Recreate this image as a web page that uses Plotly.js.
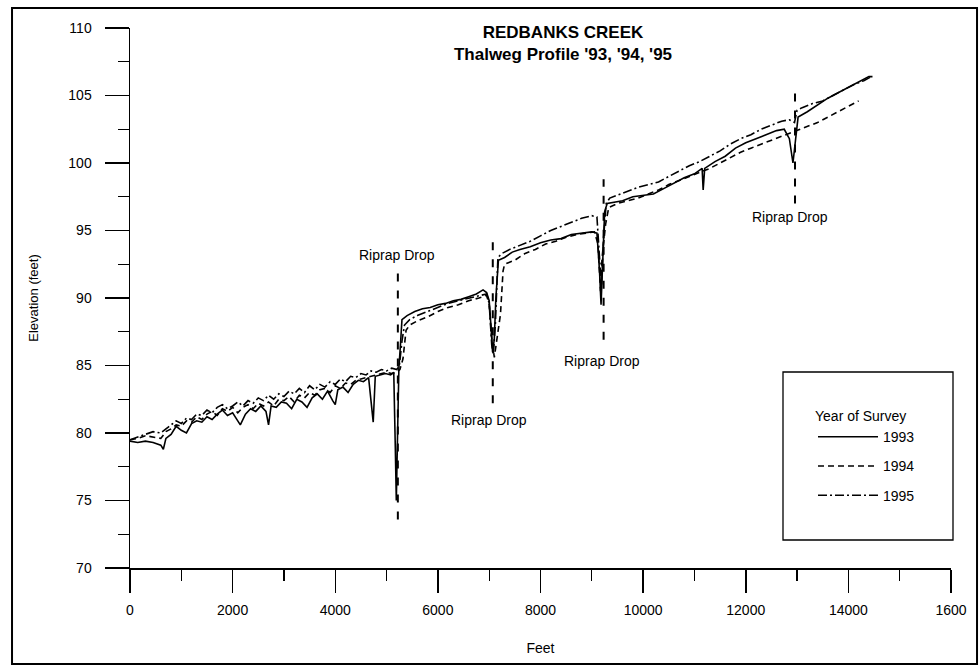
<!DOCTYPE html>
<html>
<head>
<meta charset="utf-8">
<script src="https://cdn.plot.ly/plotly-3.0.1.min.js"></script>
<style>html,body{margin:0;padding:0;background:#fff;}#chart{width:980px;height:668px;}</style>
</head>
<body>
<div id="chart"></div>
<script>
// ---- Data ----
const seriesNames = ['1993', '1994', '1995'];

const feet1993 = [0,150,300,450,600,650,700,800,900,1000,1100,1200,1300,1400,1500,1600,1700,1800,1900,2000,2100,2150,2250,2350,2450,2550,2650,2700,2750,2850,2950,3050,3150,3250,3350,3450,3550,3650,3750,3850,3950,4000,4050,4150,4250,4350,4450,4550,4650,4700,4740,4780,4880,4980,5080,5140,5170,5190,5215,5240,5270,5300,5400,5550,5700,5850,6000,6150,6300,6450,6600,6750,6880,6950,7000,7040,7070,7100,7130,7180,7300,7450,7600,7800,8000,8200,8400,8600,8800,9000,9100,9150,9180,9210,9250,9300,9450,9600,9800,10000,10200,10400,10600,10800,11000,11150,11170,11200,11400,11600,11800,12000,12200,12400,12600,12750,12850,12920,12970,13020,13200,13400,13600,13800,14000,14200,14400,14470];
const elev1993 = [79.4,79.3,79.4,79.3,79.1,78.8,79.6,79.9,80.5,80.2,80.0,80.7,80.9,80.8,81.2,81.0,81.4,81.7,81.3,81.5,80.9,80.6,81.4,81.8,81.6,82.0,81.6,80.6,82.0,81.9,82.3,82.2,81.8,82.5,82.3,81.9,82.6,82.9,82.5,83.1,82.4,82.1,83.2,83.4,83.0,83.6,83.9,83.8,84.1,82.5,80.8,84.2,84.3,84.4,84.3,84.5,79.0,75.0,80.0,84.8,86.5,88.4,88.7,89.0,89.2,89.3,89.5,89.6,89.8,89.9,90.1,90.3,90.6,90.4,89.8,87.5,86.0,87.0,90.0,92.8,93.0,93.4,93.6,93.8,94.1,94.3,94.4,94.7,94.8,94.9,94.8,92.0,89.5,92.5,96.4,97.0,97.1,97.2,97.5,97.6,97.7,98.1,98.5,98.9,99.2,99.6,98.0,99.6,100.1,100.5,101.1,101.5,101.8,102.1,102.4,102.5,101.8,100.0,101.5,103.4,103.8,104.3,104.8,105.2,105.6,106.0,106.4,106.4];

const feet1994 = [0,150,300,450,600,700,800,900,1000,1100,1200,1300,1400,1500,1600,1700,1800,1900,2000,2100,2200,2300,2400,2500,2600,2700,2800,2900,3000,3100,3200,3300,3400,3500,3600,3700,3800,3900,4000,4100,4200,4300,4400,4500,4600,4700,4800,4900,5000,5100,5200,5260,5320,5380,5450,5600,5800,6000,6200,6400,6600,6800,6950,7000,7050,7100,7150,7220,7270,7300,7500,7700,7900,8100,8300,8500,8700,8900,9050,9120,9170,9200,9270,9330,9500,9700,9900,10100,10300,10500,10700,10900,11100,11300,11500,11700,11900,12100,12300,12500,12700,12900,13000,13200,13400,13600,13800,14000,14200];
const elev1994 = [79.5,79.6,79.8,79.7,79.6,80.1,80.3,80.6,80.5,80.9,80.8,81.2,81.0,81.4,81.6,81.3,81.8,81.6,81.9,81.5,81.9,82.1,81.8,82.2,82.0,82.3,82.0,82.5,82.4,82.7,82.3,82.8,82.6,83.0,82.8,83.2,83.3,83.0,83.5,83.3,83.7,83.6,83.9,84.0,84.1,84.2,84.3,84.4,84.5,84.4,84.5,84.7,85.5,87.6,88.0,88.3,88.6,89.0,89.3,89.5,89.8,90.0,90.2,89.5,87.0,85.6,87.0,88.8,92.0,92.5,92.8,93.3,93.6,94.0,94.2,94.5,94.7,94.8,94.9,94.0,90.5,93.0,95.5,96.7,97.0,97.2,97.4,97.7,98.0,98.4,98.7,99.0,99.3,99.6,100.0,100.4,100.8,101.1,101.4,101.7,102.0,102.3,102.4,102.7,103.0,103.4,103.8,104.2,104.6];

const feet1995 = [0,150,300,450,600,700,800,900,1000,1100,1200,1300,1400,1500,1600,1700,1800,1900,2000,2100,2200,2300,2400,2500,2600,2700,2800,2900,3000,3100,3200,3300,3400,3500,3600,3700,3800,3900,4000,4100,4200,4300,4400,4500,4600,4700,4800,4900,5000,5100,5200,5250,5300,5350,5450,5600,5800,6000,6200,6400,6600,6800,6950,7000,7050,7080,7120,7170,7250,7400,7600,7800,8000,8200,8400,8600,8800,9000,9100,9150,9190,9230,9280,9350,9500,9700,9900,10100,10300,10500,10700,10900,11100,11300,11500,11700,11900,12100,12300,12500,12700,12850,12950,13000,13100,13300,13500,13700,13900,14100,14300,14450];
const elev1995 = [79.5,79.7,79.9,80.1,80.0,80.3,80.6,80.9,80.7,81.1,81.0,81.4,81.3,81.7,81.5,81.9,82.1,81.8,82.0,82.3,82.0,82.4,82.2,82.6,82.4,82.8,82.5,82.9,82.7,83.1,82.9,83.3,83.0,83.5,83.2,83.6,83.4,83.8,83.6,84.0,83.8,84.2,84.1,84.4,84.3,84.6,84.5,84.7,84.6,84.8,84.7,85.0,86.8,88.0,88.4,88.7,89.0,89.3,89.6,89.8,90.0,90.2,90.3,89.6,86.5,85.8,88.0,93.0,93.3,93.6,93.9,94.2,94.6,95.0,95.3,95.6,95.9,96.1,96.0,93.0,91.0,94.5,97.0,97.4,97.6,97.9,98.2,98.4,98.6,99.0,99.4,99.8,100.1,100.5,100.9,101.4,101.8,102.1,102.5,102.8,103.1,103.2,103.0,103.9,104.1,104.4,104.6,105.0,105.4,105.8,106.1,106.4];

// Riprap drop markers
const riprapX = [5220, 7070, 9230, 12960];
const riprapTop = [92.0, 94.5, 98.8, 105.4];
const riprapBottom = [73.6, 82.2, 86.9, 97.0];
const riprapLabelX = [5200, 7000, 9200, 12860];
const riprapLabelY = [93.2, 81.0, 85.3, 96.0];
const riprapLabel = 'Riprap Drop';

// Axis ticks
const xTickVals = [0, 2000, 4000, 6000, 8000, 10000, 12000, 14000, 16000];
const xTickText = ['0', '2000', '4000', '6000', '8000', '10000', '12000', '14000', '1600'];
const yTickVals = [70, 75, 80, 85, 90, 95, 100, 105, 110];

// ---- Build ----
const FONT = 'Arial, "Liberation Sans", sans-serif';
const dashes = ['solid', '6px,4px', '9px,3px,2px,3px'];
const feetAll = [feet1993, feet1994, feet1995];
const elevAll = [elev1993, elev1994, elev1995];

const traces = seriesNames.map((n, i) => ({
  x: feetAll[i], y: elevAll[i], type: 'scatter', mode: 'lines', name: n,
  legendgroup: 'g' + i,
  line: {color: '#000', width: 1.6, dash: dashes[i]}
}));

const shapes = riprapX.map((x, i) => ({
  type: 'line', xref: 'x', yref: 'y', x0: x, x1: x, y0: riprapBottom[i], y1: riprapTop[i],
  line: {color: '#000', width: 2, dash: '8px,9px'}
}));
// outer frame
shapes.push({type: 'rect', xref: 'paper', yref: 'paper', x0: -0.1437, x1: 1.0317, y0: -0.178, y1: 1.037,
  line: {color: '#000', width: 2}});
// legend box
shapes.push({type: 'rect', xref: 'paper', yref: 'paper', x0: (783 - 130) / 821, x1: (953 - 130) / 821,
  y0: (568 - 540) / 540, y1: (568 - 372) / 540, line: {color: '#000', width: 1.3}, fillcolor: 'rgba(0,0,0,0)'});

const annotations = riprapX.map((x, i) => ({
  x: riprapLabelX[i], y: riprapLabelY[i], xref: 'x', yref: 'y', text: riprapLabel, showarrow: false,
  font: {family: FONT, size: 14, color: '#000'}, xanchor: 'center', yanchor: 'middle'
}));

const layout = {
  width: 980, height: 668,
  margin: {l: 130, r: 29, t: 28, b: 100},
  paper_bgcolor: '#fff', plot_bgcolor: '#fff',
  font: {family: FONT, color: '#000', size: 14},
  title: {
    text: '<b>REDBANKS CREEK<br>Thalweg Profile \'93, \'94, \'95</b>',
    font: {family: FONT, size: 17, color: '#000'},
    x: 563 / 980, xanchor: 'center', xref: 'container',
    y: 1 - 38 / 668, yanchor: 'top', yref: 'container'
  },
  xaxis: {
    range: [0, 16000], tickvals: xTickVals, ticktext: xTickText,
    ticks: 'outside', ticklen: 23, tickwidth: 1.5, tickcolor: '#000',
    minor: {dtick: 1000, tick0: 0, ticks: 'outside', ticklen: 11, tickwidth: 1.2, tickcolor: '#000'},
    showline: true, linecolor: '#000', linewidth: 1.5, showgrid: false, zeroline: false,
    tickfont: {family: FONT, size: 14, color: '#000'}, ticklabelstandoff: 6,
    title: {text: 'Feet', font: {family: FONT, size: 14, color: '#000'}, standoff: 26}
  },
  yaxis: {
    range: [70, 110], tickvals: yTickVals,
    ticks: 'outside', ticklen: 24, tickwidth: 1.5, tickcolor: '#000',
    minor: {dtick: 2.5, tick0: 70, ticks: 'outside', ticklen: 11, tickwidth: 1.2, tickcolor: '#000'},
    showline: true, linecolor: '#000', linewidth: 1.5, showgrid: false, zeroline: false,
    tickfont: {family: FONT, size: 14, color: '#000'}, ticklabelstandoff: 10,
    title: {text: 'Elevation (feet)', font: {family: FONT, size: 13, color: '#000'}, standoff: 27}
  },
  showlegend: true,
  legend: {
    x: (813 - 130) / 821, xanchor: 'left', y: (568 - 403) / 540, yanchor: 'top',
    bgcolor: 'rgba(0,0,0,0)', borderwidth: 0,
    title: {text: 'Year of Survey', font: {family: FONT, size: 14, color: '#000'}},
    font: {family: FONT, size: 14, color: '#000'},
    itemwidth: 60, tracegroupgap: 8, traceorder: 'grouped'
  },
  shapes: shapes,
  annotations: annotations
};

Plotly.newPlot('chart', traces, layout, {displayModeBar: false, staticPlot: true});
</script>
</body>
</html>
